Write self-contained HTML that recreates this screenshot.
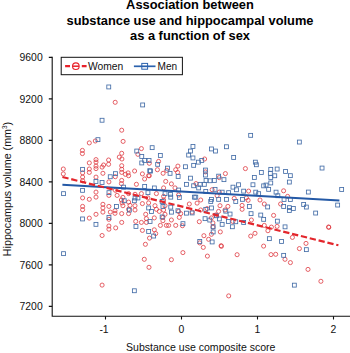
<!DOCTYPE html>
<html><head><meta charset="utf-8">
<style>
html,body{margin:0;padding:0;background:#fff;}
body{width:350px;height:353px;overflow:hidden;font-family:"Liberation Sans",sans-serif;}
svg{display:block}
text{font-family:"Liberation Sans",sans-serif;fill:#111}
.t{font-weight:bold;font-size:12.85px;text-anchor:middle;fill:#000}
.yl{font-size:10.4px;text-anchor:end}
.xl{font-size:10.4px;text-anchor:middle}
.w{fill:none;stroke:#de3a41;stroke-width:0.8}
.m{fill:none;stroke:#456ea8;stroke-width:0.85}
</style></head><body>
<svg width="350" height="353" viewBox="0 0 350 353">
<rect width="350" height="353" fill="#fff"/>
<text class="t" x="190" y="9.3">Association between</text>
<text class="t" x="190" y="24.6">substance use and hippocampal volume</text>
<text class="t" x="190" y="39.9">as a function of sex</text>

<g stroke="#111" stroke-width="1.1" fill="none">
<path d="M52.2 56.8V316.3H350"/>
<path d="M48.8 306.4H52.2M48.8 264.9H52.2M48.8 223.4H52.2M48.8 181.9H52.2M48.8 140.4H52.2M48.8 98.9H52.2M48.8 57.4H52.2"/>
<path d="M105.5 316.3V319.6M181.5 316.3V319.6M257.5 316.3V319.6M333.5 316.3V319.6"/>
</g>
<text class="yl" x="42.7" y="310.2">7200</text>
<text class="yl" x="42.7" y="268.7">7600</text>
<text class="yl" x="42.7" y="227.2">8000</text>
<text class="yl" x="42.7" y="185.7">8400</text>
<text class="yl" x="42.7" y="144.2">8800</text>
<text class="yl" x="42.7" y="102.7">9200</text>
<text class="yl" x="42.7" y="61.2">9600</text>
<text class="xl" x="104.0" y="332.6">-1</text>
<text class="xl" x="181.5" y="332.6">0</text>
<text class="xl" x="257.5" y="332.6">1</text>
<text class="xl" x="333.5" y="332.6">2</text>
<text x="126" y="350.5" style="font-size:10.7px" textLength="149.5" lengthAdjust="spacingAndGlyphs">Substance use composite score</text>
<text transform="translate(10.5,189) rotate(-90)" style="font-size:10.7px;text-anchor:middle">Hippocampus volume (mm<tspan dy="-3.5" style="font-size:6.5px">3</tspan><tspan dy="3.5">)</tspan></text>
<g class="w">
<circle cx="115.2" cy="102.3" r="2.05"/>
<circle cx="121.7" cy="130.2" r="2.05"/>
<circle cx="95.3" cy="141.0" r="2.05"/>
<circle cx="89.3" cy="142.9" r="2.05"/>
<circle cx="82.4" cy="150.4" r="2.05"/>
<circle cx="82.4" cy="153.6" r="2.05"/>
<circle cx="96.0" cy="159.6" r="2.05"/>
<circle cx="96.0" cy="162.1" r="2.05"/>
<circle cx="89.3" cy="162.9" r="2.05"/>
<circle cx="103.6" cy="165.0" r="2.05"/>
<circle cx="96.0" cy="166.1" r="2.05"/>
<circle cx="96.0" cy="168.6" r="2.05"/>
<circle cx="63.3" cy="169.0" r="2.05"/>
<circle cx="89.3" cy="169.0" r="2.05"/>
<circle cx="89.3" cy="172.4" r="2.05"/>
<circle cx="82.6" cy="172.9" r="2.05"/>
<circle cx="102.9" cy="173.3" r="2.05"/>
<circle cx="63.3" cy="173.9" r="2.05"/>
<circle cx="96.0" cy="177.1" r="2.05"/>
<circle cx="82.6" cy="177.1" r="2.05"/>
<circle cx="82.6" cy="180.7" r="2.05"/>
<circle cx="123.1" cy="141.4" r="2.05"/>
<circle cx="141.4" cy="148.6" r="2.05"/>
<circle cx="121.7" cy="153.3" r="2.05"/>
<circle cx="137.9" cy="154.3" r="2.05"/>
<circle cx="119.3" cy="157.1" r="2.05"/>
<circle cx="121.9" cy="159.0" r="2.05"/>
<circle cx="108.6" cy="160.0" r="2.05"/>
<circle cx="108.6" cy="164.3" r="2.05"/>
<circle cx="121.7" cy="165.7" r="2.05"/>
<circle cx="102.1" cy="167.1" r="2.05"/>
<circle cx="121.7" cy="169.3" r="2.05"/>
<circle cx="134.6" cy="171.0" r="2.05"/>
<circle cx="121.7" cy="172.4" r="2.05"/>
<circle cx="128.1" cy="172.9" r="2.05"/>
<circle cx="125.4" cy="174.3" r="2.05"/>
<circle cx="142.4" cy="173.9" r="2.05"/>
<circle cx="128.6" cy="175.7" r="2.05"/>
<circle cx="115.3" cy="176.7" r="2.05"/>
<circle cx="148.6" cy="175.7" r="2.05"/>
<circle cx="144.6" cy="179.0" r="2.05"/>
<circle cx="121.7" cy="180.4" r="2.05"/>
<circle cx="108.9" cy="181.9" r="2.05"/>
<circle cx="136.4" cy="184.3" r="2.05"/>
<circle cx="121.4" cy="183.6" r="2.05"/>
<circle cx="158.6" cy="161.4" r="2.05"/>
<circle cx="149.3" cy="163.3" r="2.05"/>
<circle cx="177.9" cy="166.1" r="2.05"/>
<circle cx="157.4" cy="169.7" r="2.05"/>
<circle cx="175.7" cy="169.7" r="2.05"/>
<circle cx="166.7" cy="170.4" r="2.05"/>
<circle cx="177.6" cy="172.4" r="2.05"/>
<circle cx="163.1" cy="173.3" r="2.05"/>
<circle cx="149.3" cy="175.7" r="2.05"/>
<circle cx="165.7" cy="181.4" r="2.05"/>
<circle cx="171.4" cy="183.9" r="2.05"/>
<circle cx="204.6" cy="159.0" r="2.05"/>
<circle cx="205.4" cy="171.9" r="2.05"/>
<circle cx="225.4" cy="173.6" r="2.05"/>
<circle cx="219.3" cy="177.6" r="2.05"/>
<circle cx="196.0" cy="183.6" r="2.05"/>
<circle cx="245.4" cy="168.6" r="2.05"/>
<circle cx="96.0" cy="192.1" r="2.05"/>
<circle cx="96.0" cy="197.1" r="2.05"/>
<circle cx="82.6" cy="197.9" r="2.05"/>
<circle cx="89.3" cy="199.3" r="2.05"/>
<circle cx="102.9" cy="204.3" r="2.05"/>
<circle cx="82.6" cy="206.4" r="2.05"/>
<circle cx="102.9" cy="207.9" r="2.05"/>
<circle cx="82.6" cy="209.7" r="2.05"/>
<circle cx="102.9" cy="212.1" r="2.05"/>
<circle cx="96.0" cy="214.3" r="2.05"/>
<circle cx="89.3" cy="218.1" r="2.05"/>
<circle cx="115.4" cy="190.3" r="2.05"/>
<circle cx="108.9" cy="195.4" r="2.05"/>
<circle cx="117.1" cy="195.4" r="2.05"/>
<circle cx="128.6" cy="193.6" r="2.05"/>
<circle cx="135.0" cy="194.3" r="2.05"/>
<circle cx="141.4" cy="193.6" r="2.05"/>
<circle cx="122.9" cy="197.4" r="2.05"/>
<circle cx="121.4" cy="200.0" r="2.05"/>
<circle cx="122.1" cy="202.9" r="2.05"/>
<circle cx="128.6" cy="202.1" r="2.05"/>
<circle cx="142.4" cy="203.6" r="2.05"/>
<circle cx="148.6" cy="202.9" r="2.05"/>
<circle cx="122.9" cy="205.7" r="2.05"/>
<circle cx="130.0" cy="205.4" r="2.05"/>
<circle cx="135.0" cy="205.7" r="2.05"/>
<circle cx="108.9" cy="206.4" r="2.05"/>
<circle cx="128.6" cy="209.3" r="2.05"/>
<circle cx="135.0" cy="210.0" r="2.05"/>
<circle cx="115.0" cy="210.7" r="2.05"/>
<circle cx="110.3" cy="212.1" r="2.05"/>
<circle cx="115.0" cy="213.3" r="2.05"/>
<circle cx="121.7" cy="213.6" r="2.05"/>
<circle cx="128.6" cy="213.6" r="2.05"/>
<circle cx="145.7" cy="214.3" r="2.05"/>
<circle cx="108.9" cy="219.3" r="2.05"/>
<circle cx="146.4" cy="218.6" r="2.05"/>
<circle cx="121.7" cy="222.4" r="2.05"/>
<circle cx="135.7" cy="221.4" r="2.05"/>
<circle cx="141.4" cy="222.4" r="2.05"/>
<circle cx="146.4" cy="222.4" r="2.05"/>
<circle cx="108.9" cy="226.0" r="2.05"/>
<circle cx="108.9" cy="229.2" r="2.05"/>
<circle cx="115.7" cy="227.9" r="2.05"/>
<circle cx="163.6" cy="187.9" r="2.05"/>
<circle cx="175.0" cy="187.9" r="2.05"/>
<circle cx="156.4" cy="193.6" r="2.05"/>
<circle cx="178.6" cy="195.0" r="2.05"/>
<circle cx="163.6" cy="196.4" r="2.05"/>
<circle cx="147.9" cy="197.9" r="2.05"/>
<circle cx="163.6" cy="200.0" r="2.05"/>
<circle cx="189.3" cy="204.0" r="2.05"/>
<circle cx="155.0" cy="205.7" r="2.05"/>
<circle cx="165.0" cy="205.7" r="2.05"/>
<circle cx="156.4" cy="209.3" r="2.05"/>
<circle cx="163.6" cy="210.0" r="2.05"/>
<circle cx="178.6" cy="211.4" r="2.05"/>
<circle cx="159.3" cy="211.4" r="2.05"/>
<circle cx="192.1" cy="212.1" r="2.05"/>
<circle cx="165.0" cy="214.3" r="2.05"/>
<circle cx="180.7" cy="213.6" r="2.05"/>
<circle cx="162.9" cy="217.4" r="2.05"/>
<circle cx="154.3" cy="217.9" r="2.05"/>
<circle cx="179.3" cy="217.4" r="2.05"/>
<circle cx="171.4" cy="220.0" r="2.05"/>
<circle cx="162.9" cy="220.7" r="2.05"/>
<circle cx="160.4" cy="225.4" r="2.05"/>
<circle cx="166.4" cy="225.4" r="2.05"/>
<circle cx="168.6" cy="225.4" r="2.05"/>
<circle cx="175.7" cy="225.4" r="2.05"/>
<circle cx="182.4" cy="225.7" r="2.05"/>
<circle cx="154.3" cy="229.8" r="2.05"/>
<circle cx="212.1" cy="189.7" r="2.05"/>
<circle cx="219.3" cy="192.1" r="2.05"/>
<circle cx="217.1" cy="195.7" r="2.05"/>
<circle cx="234.2" cy="198.4" r="2.05"/>
<circle cx="200.7" cy="200.0" r="2.05"/>
<circle cx="197.1" cy="203.1" r="2.05"/>
<circle cx="220.0" cy="205.7" r="2.05"/>
<circle cx="227.9" cy="206.4" r="2.05"/>
<circle cx="207.1" cy="208.6" r="2.05"/>
<circle cx="200.7" cy="210.0" r="2.05"/>
<circle cx="225.0" cy="210.0" r="2.05"/>
<circle cx="218.6" cy="211.4" r="2.05"/>
<circle cx="215.7" cy="215.0" r="2.05"/>
<circle cx="211.4" cy="217.9" r="2.05"/>
<circle cx="199.3" cy="221.7" r="2.05"/>
<circle cx="232.9" cy="221.4" r="2.05"/>
<circle cx="212.9" cy="222.9" r="2.05"/>
<circle cx="212.9" cy="227.1" r="2.05"/>
<circle cx="248.6" cy="191.1" r="2.05"/>
<circle cx="283.6" cy="190.8" r="2.05"/>
<circle cx="246.4" cy="197.9" r="2.05"/>
<circle cx="248.1" cy="200.3" r="2.05"/>
<circle cx="260.0" cy="200.0" r="2.05"/>
<circle cx="264.3" cy="204.0" r="2.05"/>
<circle cx="280.6" cy="204.0" r="2.05"/>
<circle cx="242.1" cy="205.4" r="2.05"/>
<circle cx="242.1" cy="209.3" r="2.05"/>
<circle cx="273.6" cy="215.4" r="2.05"/>
<circle cx="251.4" cy="220.0" r="2.05"/>
<circle cx="264.3" cy="225.4" r="2.05"/>
<circle cx="277.1" cy="226.4" r="2.05"/>
<circle cx="271.4" cy="227.1" r="2.05"/>
<circle cx="287.6" cy="196.4" r="2.05"/>
<circle cx="328.6" cy="227.0" r="2.05"/>
<circle cx="102.1" cy="235.5" r="2.05"/>
<circle cx="142.4" cy="230.4" r="2.05"/>
<circle cx="149.5" cy="238.1" r="2.05"/>
<circle cx="145.4" cy="244.3" r="2.05"/>
<circle cx="144.3" cy="259.3" r="2.05"/>
<circle cx="149.0" cy="267.3" r="2.05"/>
<circle cx="155.7" cy="233.6" r="2.05"/>
<circle cx="169.3" cy="232.9" r="2.05"/>
<circle cx="182.9" cy="252.6" r="2.05"/>
<circle cx="171.4" cy="259.7" r="2.05"/>
<circle cx="220.3" cy="231.9" r="2.05"/>
<circle cx="211.4" cy="234.3" r="2.05"/>
<circle cx="203.9" cy="235.7" r="2.05"/>
<circle cx="208.6" cy="239.3" r="2.05"/>
<circle cx="199.7" cy="242.9" r="2.05"/>
<circle cx="221.1" cy="245.7" r="2.05"/>
<circle cx="203.3" cy="247.4" r="2.05"/>
<circle cx="237.1" cy="254.7" r="2.05"/>
<circle cx="207.4" cy="256.1" r="2.05"/>
<circle cx="267.9" cy="230.7" r="2.05"/>
<circle cx="255.0" cy="233.3" r="2.05"/>
<circle cx="250.7" cy="236.1" r="2.05"/>
<circle cx="263.6" cy="246.1" r="2.05"/>
<circle cx="271.0" cy="254.6" r="2.05"/>
<circle cx="275.7" cy="254.3" r="2.05"/>
<circle cx="285.0" cy="259.3" r="2.05"/>
<circle cx="292.4" cy="237.4" r="2.05"/>
<circle cx="306.0" cy="243.4" r="2.05"/>
<circle cx="299.4" cy="248.6" r="2.05"/>
<circle cx="290.4" cy="262.6" r="2.05"/>
<circle cx="308.0" cy="269.4" r="2.05"/>
<circle cx="221.4" cy="246.3" r="2.05"/>
<circle cx="328.8" cy="227.3" r="2.05"/>
<circle cx="102.1" cy="285.1" r="2.05"/>
<circle cx="320.9" cy="281.3" r="2.05"/>
<circle cx="228.7" cy="295.9" r="2.05"/>
</g>
<g class="m">
<rect x="106.8" y="85.0" width="3.9" height="3.9"/>
<rect x="100.1" y="118.3" width="3.9" height="3.9"/>
<rect x="140.7" y="103.0" width="3.9" height="3.9"/>
<rect x="248.7" y="133.4" width="3.9" height="3.9"/>
<rect x="96.0" y="137.7" width="3.9" height="3.9"/>
<rect x="80.6" y="167.4" width="3.9" height="3.9"/>
<rect x="94.0" y="179.5" width="3.9" height="3.9"/>
<rect x="100.1" y="180.5" width="3.9" height="3.9"/>
<rect x="134.8" y="149.1" width="3.9" height="3.9"/>
<rect x="139.8" y="154.5" width="3.9" height="3.9"/>
<rect x="142.7" y="158.5" width="3.9" height="3.9"/>
<rect x="139.8" y="161.0" width="3.9" height="3.9"/>
<rect x="147.1" y="158.5" width="3.9" height="3.9"/>
<rect x="147.8" y="168.8" width="3.9" height="3.9"/>
<rect x="113.5" y="171.7" width="3.9" height="3.9"/>
<rect x="108.3" y="174.8" width="3.9" height="3.9"/>
<rect x="150.2" y="145.7" width="3.9" height="3.9"/>
<rect x="191.0" y="144.5" width="3.9" height="3.9"/>
<rect x="188.5" y="149.1" width="3.9" height="3.9"/>
<rect x="158.4" y="153.5" width="3.9" height="3.9"/>
<rect x="186.7" y="153.1" width="3.9" height="3.9"/>
<rect x="191.0" y="156.0" width="3.9" height="3.9"/>
<rect x="155.7" y="162.4" width="3.9" height="3.9"/>
<rect x="191.7" y="163.4" width="3.9" height="3.9"/>
<rect x="183.5" y="164.8" width="3.9" height="3.9"/>
<rect x="165.5" y="166.2" width="3.9" height="3.9"/>
<rect x="148.5" y="169.1" width="3.9" height="3.9"/>
<rect x="168.1" y="171.4" width="3.9" height="3.9"/>
<rect x="176.2" y="174.5" width="3.9" height="3.9"/>
<rect x="188.5" y="176.2" width="3.9" height="3.9"/>
<rect x="184.5" y="182.4" width="3.9" height="3.9"/>
<rect x="191.7" y="183.8" width="3.9" height="3.9"/>
<rect x="224.5" y="144.8" width="3.9" height="3.9"/>
<rect x="209.5" y="147.0" width="3.9" height="3.9"/>
<rect x="213.5" y="149.1" width="3.9" height="3.9"/>
<rect x="231.7" y="155.5" width="3.9" height="3.9"/>
<rect x="199.8" y="158.5" width="3.9" height="3.9"/>
<rect x="196.4" y="160.2" width="3.9" height="3.9"/>
<rect x="203.5" y="168.1" width="3.9" height="3.9"/>
<rect x="203.5" y="173.1" width="3.9" height="3.9"/>
<rect x="216.7" y="174.2" width="3.9" height="3.9"/>
<rect x="222.0" y="177.7" width="3.9" height="3.9"/>
<rect x="204.1" y="178.5" width="3.9" height="3.9"/>
<rect x="208.1" y="178.8" width="3.9" height="3.9"/>
<rect x="212.4" y="178.5" width="3.9" height="3.9"/>
<rect x="198.1" y="182.4" width="3.9" height="3.9"/>
<rect x="202.4" y="182.4" width="3.9" height="3.9"/>
<rect x="236.6" y="182.8" width="3.9" height="3.9"/>
<rect x="253.4" y="160.2" width="3.9" height="3.9"/>
<rect x="254.4" y="162.8" width="3.9" height="3.9"/>
<rect x="268.8" y="167.4" width="3.9" height="3.9"/>
<rect x="275.2" y="167.1" width="3.9" height="3.9"/>
<rect x="259.4" y="170.5" width="3.9" height="3.9"/>
<rect x="268.4" y="171.4" width="3.9" height="3.9"/>
<rect x="272.8" y="173.8" width="3.9" height="3.9"/>
<rect x="283.6" y="169.5" width="3.9" height="3.9"/>
<rect x="252.4" y="175.5" width="3.9" height="3.9"/>
<rect x="268.8" y="175.5" width="3.9" height="3.9"/>
<rect x="268.8" y="181.0" width="3.9" height="3.9"/>
<rect x="251.0" y="182.8" width="3.9" height="3.9"/>
<rect x="261.7" y="183.9" width="3.9" height="3.9"/>
<rect x="264.1" y="183.1" width="3.9" height="3.9"/>
<rect x="297.4" y="140.1" width="3.9" height="3.9"/>
<rect x="320.1" y="166.1" width="3.9" height="3.9"/>
<rect x="288.4" y="173.7" width="3.9" height="3.9"/>
<rect x="287.4" y="180.1" width="3.9" height="3.9"/>
<rect x="80.6" y="188.4" width="3.9" height="3.9"/>
<rect x="61.6" y="191.7" width="3.9" height="3.9"/>
<rect x="80.6" y="217.0" width="3.9" height="3.9"/>
<rect x="94.0" y="222.4" width="3.9" height="3.9"/>
<rect x="142.7" y="184.5" width="3.9" height="3.9"/>
<rect x="121.6" y="185.2" width="3.9" height="3.9"/>
<rect x="107.0" y="190.7" width="3.9" height="3.9"/>
<rect x="146.0" y="190.7" width="3.9" height="3.9"/>
<rect x="133.1" y="196.0" width="3.9" height="3.9"/>
<rect x="136.0" y="196.0" width="3.9" height="3.9"/>
<rect x="122.3" y="198.8" width="3.9" height="3.9"/>
<rect x="132.4" y="198.8" width="3.9" height="3.9"/>
<rect x="114.5" y="204.5" width="3.9" height="3.9"/>
<rect x="146.7" y="206.0" width="3.9" height="3.9"/>
<rect x="127.4" y="208.1" width="3.9" height="3.9"/>
<rect x="107.0" y="215.5" width="3.9" height="3.9"/>
<rect x="134.0" y="224.5" width="3.9" height="3.9"/>
<rect x="152.4" y="186.0" width="3.9" height="3.9"/>
<rect x="176.7" y="188.1" width="3.9" height="3.9"/>
<rect x="163.1" y="191.7" width="3.9" height="3.9"/>
<rect x="168.5" y="192.4" width="3.9" height="3.9"/>
<rect x="168.8" y="195.2" width="3.9" height="3.9"/>
<rect x="177.4" y="195.5" width="3.9" height="3.9"/>
<rect x="192.4" y="195.2" width="3.9" height="3.9"/>
<rect x="160.2" y="199.5" width="3.9" height="3.9"/>
<rect x="161.0" y="204.5" width="3.9" height="3.9"/>
<rect x="168.8" y="205.2" width="3.9" height="3.9"/>
<rect x="176.0" y="208.8" width="3.9" height="3.9"/>
<rect x="149.5" y="209.5" width="3.9" height="3.9"/>
<rect x="169.5" y="210.2" width="3.9" height="3.9"/>
<rect x="184.5" y="211.2" width="3.9" height="3.9"/>
<rect x="190.2" y="211.0" width="3.9" height="3.9"/>
<rect x="160.2" y="215.0" width="3.9" height="3.9"/>
<rect x="148.1" y="219.5" width="3.9" height="3.9"/>
<rect x="181.0" y="221.7" width="3.9" height="3.9"/>
<rect x="196.7" y="186.0" width="3.9" height="3.9"/>
<rect x="231.0" y="185.2" width="3.9" height="3.9"/>
<rect x="213.1" y="187.4" width="3.9" height="3.9"/>
<rect x="234.5" y="187.8" width="3.9" height="3.9"/>
<rect x="203.8" y="189.5" width="3.9" height="3.9"/>
<rect x="220.2" y="190.2" width="3.9" height="3.9"/>
<rect x="226.7" y="190.7" width="3.9" height="3.9"/>
<rect x="193.8" y="195.2" width="3.9" height="3.9"/>
<rect x="209.5" y="197.4" width="3.9" height="3.9"/>
<rect x="216.7" y="197.4" width="3.9" height="3.9"/>
<rect x="224.5" y="197.4" width="3.9" height="3.9"/>
<rect x="208.8" y="199.5" width="3.9" height="3.9"/>
<rect x="233.8" y="199.5" width="3.9" height="3.9"/>
<rect x="209.5" y="206.0" width="3.9" height="3.9"/>
<rect x="203.8" y="207.4" width="3.9" height="3.9"/>
<rect x="223.8" y="209.2" width="3.9" height="3.9"/>
<rect x="228.1" y="212.1" width="3.9" height="3.9"/>
<rect x="214.5" y="213.8" width="3.9" height="3.9"/>
<rect x="203.1" y="216.7" width="3.9" height="3.9"/>
<rect x="217.4" y="217.0" width="3.9" height="3.9"/>
<rect x="207.8" y="218.1" width="3.9" height="3.9"/>
<rect x="226.4" y="219.5" width="3.9" height="3.9"/>
<rect x="233.8" y="219.8" width="3.9" height="3.9"/>
<rect x="220.2" y="222.4" width="3.9" height="3.9"/>
<rect x="230.4" y="224.8" width="3.9" height="3.9"/>
<rect x="266.7" y="187.4" width="3.9" height="3.9"/>
<rect x="241.7" y="189.2" width="3.9" height="3.9"/>
<rect x="253.8" y="190.2" width="3.9" height="3.9"/>
<rect x="256.7" y="191.7" width="3.9" height="3.9"/>
<rect x="274.1" y="190.2" width="3.9" height="3.9"/>
<rect x="275.9" y="193.8" width="3.9" height="3.9"/>
<rect x="240.5" y="197.4" width="3.9" height="3.9"/>
<rect x="282.1" y="197.5" width="3.9" height="3.9"/>
<rect x="247.4" y="204.5" width="3.9" height="3.9"/>
<rect x="265.7" y="205.0" width="3.9" height="3.9"/>
<rect x="281.7" y="204.5" width="3.9" height="3.9"/>
<rect x="249.1" y="211.7" width="3.9" height="3.9"/>
<rect x="258.8" y="213.1" width="3.9" height="3.9"/>
<rect x="261.7" y="217.4" width="3.9" height="3.9"/>
<rect x="275.4" y="219.2" width="3.9" height="3.9"/>
<rect x="241.7" y="220.5" width="3.9" height="3.9"/>
<rect x="283.1" y="224.9" width="3.9" height="3.9"/>
<rect x="339.7" y="187.5" width="3.9" height="3.9"/>
<rect x="306.4" y="190.1" width="3.9" height="3.9"/>
<rect x="288.4" y="197.5" width="3.9" height="3.9"/>
<rect x="301.7" y="202.5" width="3.9" height="3.9"/>
<rect x="335.7" y="203.1" width="3.9" height="3.9"/>
<rect x="304.4" y="205.1" width="3.9" height="3.9"/>
<rect x="287.4" y="205.7" width="3.9" height="3.9"/>
<rect x="291.4" y="206.5" width="3.9" height="3.9"/>
<rect x="287.4" y="208.5" width="3.9" height="3.9"/>
<rect x="313.7" y="211.1" width="3.9" height="3.9"/>
<rect x="61.6" y="251.7" width="3.9" height="3.9"/>
<rect x="146.7" y="229.5" width="3.9" height="3.9"/>
<rect x="151.7" y="234.1" width="3.9" height="3.9"/>
<rect x="211.2" y="224.8" width="3.9" height="3.9"/>
<rect x="211.2" y="230.0" width="3.9" height="3.9"/>
<rect x="210.2" y="240.0" width="3.9" height="3.9"/>
<rect x="197.8" y="239.5" width="3.9" height="3.9"/>
<rect x="267.4" y="236.7" width="3.9" height="3.9"/>
<rect x="279.6" y="239.5" width="3.9" height="3.9"/>
<rect x="281.7" y="253.4" width="3.9" height="3.9"/>
<rect x="304.4" y="247.7" width="3.9" height="3.9"/>
<rect x="132.4" y="288.8" width="3.9" height="3.9"/>
<rect x="292.4" y="283.2" width="3.9" height="3.9"/>
</g>
<rect x="61.2" y="57.3" width="121.2" height="17.4" fill="#fff" stroke="#111" stroke-width="1"/>
<g stroke="#e8222a" fill="none">
<path d="M65.1 66.2H70M81.8 66.2H86.6" stroke-width="2.2"/>
<circle cx="75.85" cy="66.2" r="3.3" stroke-width="1.1"/>
<path d="M72.6 66.2H79.1" stroke-width="1.5"/>
</g>
<text x="88" y="70.2" style="font-size:11.6px" textLength="35.3" lengthAdjust="spacingAndGlyphs">Women</text>
<g stroke="#2b62ad" fill="none">
<path d="M133.9 66.3H155.5" stroke-width="1.7"/>
<rect x="141.8" y="63.4" width="5.8" height="5.8" stroke-width="1"/>
</g>
<text x="157.5" y="70.2" style="font-size:11.6px" textLength="19.6" lengthAdjust="spacingAndGlyphs">Men</text>

<path d="M62.4 184.8L339.4 200.4" stroke="#2459a6" stroke-width="2" fill="none"/>
<path d="M62.4 177L338.4 245.3" stroke="#e3262c" stroke-width="2.2" stroke-dasharray="6.3 2.8" fill="none"/>
</svg>
</body></html>
